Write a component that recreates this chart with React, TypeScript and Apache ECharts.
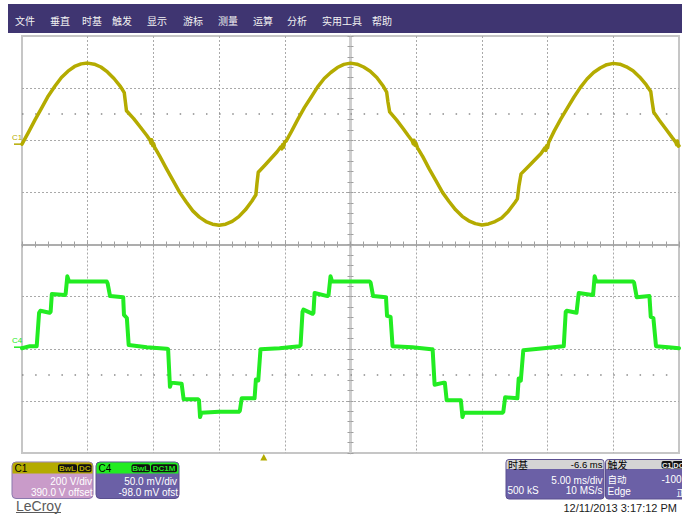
import React, { useEffect, useRef } from "react";
import * as echarts from "echarts";

// ---- acquisition settings -------------------------------------------------
const TIME_PER_DIV = 5; // ms/div
const TIME_DIVS = 10;
const TIMEBASE_DELAY = -6.6; // ms, trigger position relative to screen centre

const C1_SCALE = 200; // V/div
const C1_GROUND_DIV = -0.075; // ground marker, divisions from panel centre
const C4_SCALE = 50; // mV/div
const C4_GROUND_DIV = 0.03;

const C1_COLOR = "#b4ab00";
const C4_COLOR = "#22ec22";

// ---- menu & readouts ------------------------------------------------------
const menuItems = ["文件", "垂直", "时基", "触发", "显示", "游标", "测量", "运算", "分析", "实用工具", "帮助"];
const menuX = [15, 50, 82, 112, 147, 183, 218, 253, 287, 322, 372];

const c1Readout = ["200 V/div", "390.0 V offset"];
const c4Readout = ["50.0 mV/div", "-98.0 mV ofst"];
const c1Badges = ["BwL", "DC"];
const c4Badges = ["BwL", "DC1M"];
const timebaseReadout = { title: "时基", delay: "-6.6 ms", scale: "5.00 ms/div", points: "500 kS", rate: "10 MS/s" };
const triggerReadout = { title: "触发", badges: ["C1", "DC"], mode: "自动", level: "-100 V", type: "Edge", slope: "正" };
const timestamp = "12/11/2013 3:17:12 PM";

// ---- C1: line voltage [ms, V] ---------------------------------------------
const c1Trace: [number, number][] = [
  [0, 0], [0.5, 46], [1.0, 94], [1.5, 139], [2.0, 185], [2.5, 222], [3.0, 256], [3.5, 280],
  [4.0, 298], [4.5, 308], [5.0, 311], [5.5, 307], [6.0, 296], [6.5, 277], [7.0, 252], [7.5, 221],
  [7.78, 198], [7.86, 165], [7.95, 128], [8.5, 98], [9.0, 66], [9.5, 33], [9.75, 15], [9.82, 4],
  [9.87, 17], [9.95, -6], [10.02, 2], [10.1, -12], [10.5, -48], [11.0, -95], [11.5, -140],
  [12.0, -185], [12.5, -222], [13.0, -256], [13.5, -280], [14.0, -297], [14.5, -307], [15.0, -311],
  [15.5, -307], [16.0, -296], [16.5, -278], [17.0, -252], [17.5, -218], [17.8, -194], [17.88, -152],
  [17.98, -108], [18.5, -80], [19.0, -52], [19.4, -30], [19.7, -10], [19.77, -18], [19.83, -2],
  [19.9, -12], [19.98, 8], [20.1, 12], [20.5, 48], [21.0, 96], [21.5, 141], [22.0, 180],
  [22.5, 220], [23.0, 252], [23.5, 275], [24.0, 294], [24.5, 306], [25.0, 311], [25.5, 307],
  [26.0, 296], [26.5, 280], [27.0, 256], [27.5, 222], [27.75, 200], [27.85, 162], [27.98, 124],
  [28.5, 93], [29.0, 60], [29.4, 32], [29.7, 12], [29.77, 2], [29.83, 15], [29.9, -4], [29.97, 5],
  [30.1, -14], [30.5, -48], [31.0, -96], [31.5, -140], [32.0, -185], [32.5, -220], [33.0, -252],
  [33.5, -277], [34.0, -294], [34.5, -305], [35.0, -310], [35.5, -306], [36.0, -297], [36.5, -283],
  [37.0, -258], [37.5, -225], [37.7, -210], [37.82, -160], [37.98, -114], [38.5, -88], [39.0, -62],
  [39.5, -36], [39.8, -14], [39.87, -24], [39.92, -6], [40.0, -14], [40.08, 6], [40.5, 50],
  [41.0, 96], [41.5, 138], [42.0, 180], [42.5, 218], [43.0, 250], [43.5, 275], [44.0, 292],
  [44.5, 305], [45.0, 310], [45.5, 307], [46.0, 297], [46.5, 282], [47.0, 258], [47.5, 228],
  [47.85, 202], [47.95, 165], [48.08, 122], [48.5, 92], [49.0, 58], [49.5, 24], [49.75, 8],
  [49.82, -2], [49.88, 12], [49.95, -8], [50.0, -6],
];

// ---- C4: current probe [ms, mV] -------------------------------------------
const c4Trace: [number, number][] = [
  [0, -1], [0.6, 1], [1.12, 1], [1.3, 33], [1.4, 35], [2.1, 33], [2.18, 34], [2.27, 51], [3.25, 50],
  [3.32, 51], [3.45, 68], [3.58, 63], [5.0, 63], [6.45, 63], [6.52, 61], [6.7, 49], [7.7, 48],
  [7.76, 31], [7.98, 28], [8.12, 2], [9.5, 0], [11.0, -1.5], [11.12, -2], [11.26, -38], [11.36, -34],
  [12.15, -35], [12.2, -35], [12.3, -50], [13.4, -50], [13.47, -51], [13.55, -67], [13.65, -63],
  [15.0, -62], [16.5, -62], [16.58, -61], [16.72, -49], [17.7, -49], [17.8, -31], [17.98, -32],
  [18.15, -2], [19.6, -1], [21.12, 1], [21.2, 2], [21.35, 34], [21.42, 36], [22.12, 32],
  [22.18, 33], [22.27, 52], [23.25, 49], [23.33, 50], [23.48, 68], [23.6, 63], [25.0, 63],
  [26.45, 63], [26.53, 62], [26.72, 49], [27.7, 48], [27.78, 30], [28.05, 29], [28.2, 1],
  [29.7, 0], [31.15, -2], [31.25, -2], [31.4, -36], [32.1, -34], [32.18, -34], [32.32, -51],
  [33.3, -51], [33.4, -51], [33.52, -67], [33.62, -63], [35.0, -63], [36.55, -63], [36.63, -62],
  [36.77, -48], [37.7, -49], [37.8, -30], [37.96, -32], [38.15, -3], [39.7, -1], [41.15, 1],
  [41.23, 1], [41.38, 34], [41.45, 35], [42.2, 33], [42.25, 33], [42.37, 52], [43.4, 50],
  [43.46, 50], [43.58, 68], [43.7, 63], [45.0, 63], [46.5, 63], [46.58, 62], [46.78, 48],
  [47.75, 49], [47.85, 29], [48.05, 28], [48.25, 1], [49.2, 0], [50, -1],
];

// ---- layout -----------------------------------------------------------------
const SANS = '"Liberation Sans", Arial, sans-serif';
const CJK = '"Noto Sans CJK SC", sans-serif';
const GRID_LEFT = 22;
const GRID_TOP = 36;
const GRID_W = 657;
const GRID_H = 417;

const dotted = {
  show: true,
  showMinLine: false,
  showMaxLine: false,
  lineStyle: { color: "#a9a9a9", width: 1, type: [2, 2] as number[] },
};
const noAxisBits = {
  axisLine: { show: false },
  axisTick: { show: false },
  axisLabel: { show: false },
};

function centreAxis(pos: string, range: number, color: string, width: number) {
  return {
    type: "value",
    gridIndex: 2,
    position: pos,
    min: -range,
    max: range,
    interval: pos === "top" || pos === "bottom" ? TIME_PER_DIV : 1,
    axisLine: { show: true, onZero: true, lineStyle: { color, width } },
    axisTick: { show: true, length: 3, lineStyle: { color: "#a0a0a0", width: 1 } },
    minorTick: { show: true, splitNumber: 5, length: 3, lineStyle: { color: "#a0a0a0", width: 1 } },
    axisLabel: { show: false },
    splitLine: { show: false },
  };
}

function buildOption() {
  const tMax = TIME_PER_DIV * TIME_DIVS;
  const c1Centre = -C1_GROUND_DIV * C1_SCALE;
  const c4Centre = -C4_GROUND_DIV * C4_SCALE;
  const timeAxis = (gi: number) => ({
    type: "value", gridIndex: gi, min: 0, max: tMax, interval: TIME_PER_DIV, ...noAxisBits, splitLine: dotted,
  });
  const divAxis = (gi: number) => ({
    type: "value", gridIndex: gi, min: -2, max: 2, interval: 1, ...noAxisBits, splitLine: dotted,
  });
  const dotsRow = (xi: number, yi: number, y: number) => ({
    type: "line",
    xAxisIndex: xi,
    yAxisIndex: yi,
    data: [],
    silent: true,
    markLine: {
      silent: true,
      symbol: ["none", "none"],
      label: { show: false },
      lineStyle: { color: "#8a8a8a", width: 1.5, type: [1.5, (GRID_W / tMax) - 1.5] },
      data: [{ yAxis: y }],
    },
  });
  return {
    animation: false,
    backgroundColor: "#ffffff",
    grid: [
      { left: GRID_LEFT, top: GRID_TOP, width: GRID_W, height: GRID_H / 2 },
      { left: GRID_LEFT, top: GRID_TOP + GRID_H / 2, width: GRID_W, height: GRID_H / 2 },
      {
        left: GRID_LEFT, top: GRID_TOP, width: GRID_W, height: GRID_H,
        show: true, borderColor: "#c6c6c6", borderWidth: 2, backgroundColor: "transparent",
      },
    ],
    xAxis: [
      timeAxis(0),
      timeAxis(1),
      centreAxis("bottom", (TIME_PER_DIV * TIME_DIVS) / 2, "#a8a8a8", 1.5),
      centreAxis("top", (TIME_PER_DIV * TIME_DIVS) / 2, "#a8a8a8", 1.5),
    ],
    yAxis: [
      divAxis(0),
      { type: "value", gridIndex: 0, min: c1Centre - 2 * C1_SCALE, max: c1Centre + 2 * C1_SCALE, ...noAxisBits, splitLine: { show: false } },
      divAxis(1),
      { type: "value", gridIndex: 1, min: c4Centre - 2 * C4_SCALE, max: c4Centre + 2 * C4_SCALE, ...noAxisBits, splitLine: { show: false } },
      centreAxis("left", 4, "#cdcdcd", 2.5),
      centreAxis("right", 4, "#cdcdcd", 2.5),
    ],
    series: [
      dotsRow(0, 0, 0.5),
      dotsRow(1, 2, -0.5),
      {
        name: "C1",
        type: "line",
        xAxisIndex: 0,
        yAxisIndex: 1,
        data: c1Trace,
        symbol: "none",
        silent: true,
        z: 5,
        lineStyle: { color: C1_COLOR, width: 3.5, cap: "round", join: "round" },
      },
      {
        name: "C4",
        type: "line",
        xAxisIndex: 1,
        yAxisIndex: 3,
        data: c4Trace,
        symbol: "none",
        silent: true,
        z: 5,
        lineStyle: { color: C4_COLOR, width: 4, cap: "round", join: "round" },
      },
    ],
  };
}

// ---- graphic helpers --------------------------------------------------------
function txt(text: string, x: number, y: number, size: number, family: string, fill: string, align = "left", weight = "normal") {
  return {
    type: "text",
    x,
    y,
    silent: true,
    style: {
      text, fill,
      font: `${weight} ${size}px ${family}`,
      lineHeight: size,
      align, verticalAlign: "middle",
      textAlign: align, textVerticalAlign: "middle",
    },
  };
}
function rect(x: number, y: number, w: number, h: number, fill: string, r: number | number[] = 0, stroke?: string) {
  return {
    type: "rect",
    silent: true,
    shape: { x, y, width: w, height: h, r },
    style: stroke ? { fill, stroke, lineWidth: 1 } : { fill },
  };
}
function badges(labels: string[], xs: number[], ws: number[], y: number, h: number, color: string, size: number) {
  const out: any[] = [];
  labels.forEach((l, i) => {
    out.push(rect(xs[i], y, ws[i], h, "#111111", 2));
    out.push(txt(l, xs[i] + ws[i] / 2, y + h / 2 + 0.3, size, SANS, color, "center", "bold"));
  });
  return out;
}

function buildGraphics(chart: any) {
  const g: any[] = [];
  // menu bar
  g.push(rect(8, 4, 674, 29, "#3f3571"));
  menuItems.forEach((m, i) => g.push(txt(m, menuX[i], 20.5, 10, CJK, "#f2f2f2")));

  // channel ground markers
  const p1 = chart.convertToPixel({ xAxisIndex: 0, yAxisIndex: 1 }, [0, 0]);
  const p4 = chart.convertToPixel({ xAxisIndex: 1, yAxisIndex: 3 }, [0, 0]);
  [[p1, "C1", C1_COLOR], [p4, "C4", C4_COLOR]].forEach(([p, label, col]: any) => {
    g.push(txt(label, 12, p[1] - 6.5, 8, SANS, col));
    g.push({ type: "line", silent: true, shape: { x1: 14, y1: p[1], x2: GRID_LEFT, y2: p[1] }, style: { stroke: col, lineWidth: 1.5 } });
  });

  // trigger position marker
  const tTrig = (TIME_PER_DIV * TIME_DIVS) / 2 + TIMEBASE_DELAY;
  const pt = chart.convertToPixel({ xAxisIndex: 0, yAxisIndex: 0 }, [tTrig, 0]);
  g.push({
    type: "polygon",
    silent: true,
    shape: { points: [[pt[0] - 3.5, 460.5], [pt[0] + 3.5, 460.5], [pt[0], 454]] },
    style: { fill: C1_COLOR },
  });

  // C1 readout
  g.push(rect(12, 462, 81, 36.5, "#c99bc9", 4, "#8a78ad"));
  g.push(rect(12.5, 462.5, 80, 11, C1_COLOR, [3.5, 3.5, 0, 0]));
  g.push(txt("C1", 14.5, 468.3, 10, SANS, "#000"));
  g.push(...badges(c1Badges, [58, 78], [19, 13.5], 464.3, 8, C1_COLOR, 8));
  g.push(txt(c1Readout[0], 92, 481.3, 10, SANS, "#ffffff", "right"));
  g.push(txt(c1Readout[1], 92.5, 492.2, 10, SANS, "#ffffff", "right"));

  // C4 readout
  g.push(rect(96, 462, 83, 36.5, "#6b60a6", 4, "#5a4f8f"));
  g.push(rect(96.5, 462.5, 82, 11, C4_COLOR, [3.5, 3.5, 0, 0]));
  g.push(txt("C4", 98.5, 468.3, 10, SANS, "#000"));
  g.push(...badges(c4Badges, [131.5, 151], [18.5, 26], 464.3, 8, C4_COLOR, 8));
  g.push(txt(c4Readout[0], 177, 481.3, 10, SANS, "#ffffff", "right"));
  g.push(txt(c4Readout[1], 178, 492.2, 10, SANS, "#ffffff", "right"));

  // LeCroy logo
  g.push(txt("LeCroy", 16, 505.5, 14, SANS, "#5a5a5a"));
  g.push({ type: "line", silent: true, shape: { x1: 16, y1: 512.5, x2: 61, y2: 512.5 }, style: { stroke: "#5a5a5a", lineWidth: 1.2 } });

  // timebase readout
  g.push(rect(506, 459.5, 98, 39.5, "#6b60a6", 3, "#5a4f8f"));
  g.push(rect(506.5, 460, 97, 9, "#d4d4d4", [2.5, 2.5, 0, 0]));
  g.push(txt(timebaseReadout.title, 508, 464.5, 10, CJK, "#000"));
  g.push(txt(timebaseReadout.delay, 602.5, 464.8, 9.5, SANS, "#000", "right"));
  g.push(txt(timebaseReadout.scale, 602.5, 480.3, 10, SANS, "#ffffff", "right"));
  g.push(txt(timebaseReadout.points, 507.5, 490.8, 10, SANS, "#ffffff"));
  g.push(txt(timebaseReadout.rate, 602.5, 490.8, 10, SANS, "#ffffff", "right"));

  // trigger readout
  g.push(rect(605.5, 459.5, 90, 39.5, "#6b60a6", 3, "#5a4f8f"));
  g.push(rect(606, 460, 89, 9, "#d4d4d4", [2.5, 2.5, 0, 0]));
  g.push(txt(triggerReadout.title, 607.5, 464.5, 10, CJK, "#000"));
  g.push(...badges(triggerReadout.badges, [661.5, 672.5], [10.5, 12.5], 461, 7.5, "#e8e8e8", 7.5));
  g.push(txt(triggerReadout.mode, 607.5, 479.3, 9.5, CJK, "#ffffff"));
  g.push(txt(triggerReadout.level, 691, 479.5, 10, SANS, "#ffffff", "right"));
  g.push(txt(triggerReadout.type, 607.5, 491.3, 10, SANS, "#ffffff"));
  g.push(txt(triggerReadout.slope, 686, 491.5, 9.5, CJK, "#ffffff", "right"));

  // timestamp
  g.push(txt(timestamp, 677, 508, 11, SANS, "#1a1a1a", "right"));
  return g;
}

export default function App() {
  const ref = useRef<HTMLDivElement>(null);
  useEffect(() => {
    const el = ref.current;
    if (!el) return;
    const chart = echarts.init(el, null, { renderer: "svg" });
    chart.setOption(buildOption() as any);
    chart.setOption({ graphic: buildGraphics(chart) } as any);
    return () => chart.dispose();
  }, []);
  return (
    <div
      ref={ref}
      style={{ position: "fixed", left: 0, top: 0, width: 682, height: 519, background: "#ffffff" }}
    />
  );
}
